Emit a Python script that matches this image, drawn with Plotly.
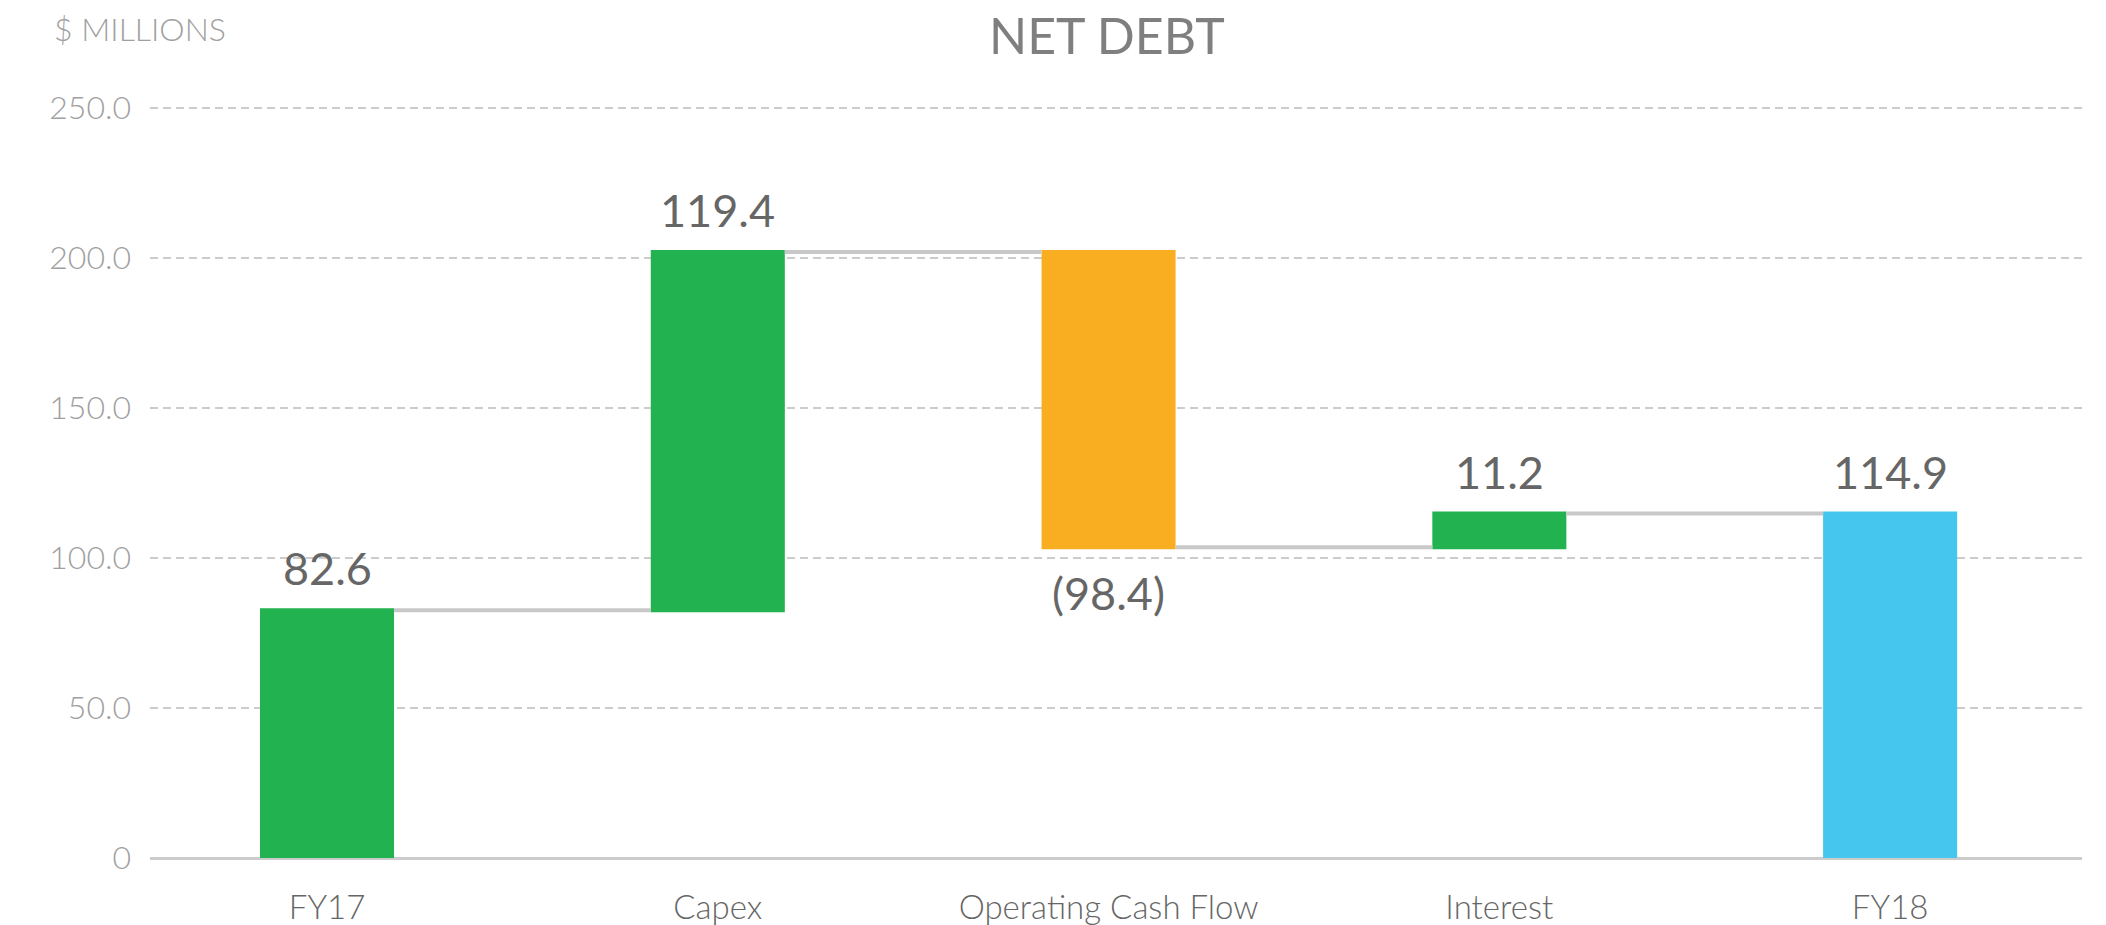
import plotly.graph_objects as go

categories = ["FY17", "Capex", "Operating Cash Flow", "Interest", "FY18"]
values = [82.6, 119.4, -98.4, 11.2, 0]
measures = ["relative", "relative", "relative", "relative", "total"]
labels = ["82.6", "119.4", "(98.4)", "11.2", "114.9"]
y_ticks = [0, 50, 100, 150, 200, 250]
y_tick_labels = ["0", "50.0", "100.0", "150.0", "200.0", "250.0"]

GREEN = "#22B24F"
ORANGE = "#F9AD20"
BLUE = "#44C6EE"
LABEL_FONT = dict(family="Lato", size=45, color="#666666")

fig = go.Figure(go.Waterfall(
    x=categories,
    y=values,
    measure=measures,
    increasing=dict(marker=dict(color=GREEN)),
    decreasing=dict(marker=dict(color=ORANGE)),
    totals=dict(marker=dict(color=BLUE)),
    connector=dict(mode="between", line=dict(color="#C8C8C8", width=4)),
    width=0.343,
    hoverinfo="skip",
))

# value labels placed at the bar ends computed from the data
running = 0.0
for cat, v, m, lab in zip(categories, values, measures, labels):
    if m == "total":
        end = running
        positive = True
    else:
        running += v
        end = running
        positive = v >= 0
    fig.add_annotation(
        x=cat, y=end, xref="x", yref="y", text=lab, showarrow=False,
        yanchor="bottom" if positive else "top",
        yshift=13 if positive else -17,
        font=LABEL_FONT,
    )

fig.update_layout(
    width=2106, height=925,
    margin=dict(l=150, r=24, t=102, b=67, autoexpand=False),
    paper_bgcolor="white", plot_bgcolor="white",
    showlegend=False,
    font=dict(family="Lato", color="#666666"),
    title=dict(text="NET DEBT", x=0.5256, xanchor="center", y=0.961, yanchor="middle",
               font=dict(family="Lato", size=50, color="#7F7F7F")),
    xaxis=dict(range=[-0.453, 4.491], showgrid=False, showline=False, zeroline=False,
               automargin=False, ticks="", ticklabelstandoff=27,
               tickfont=dict(family="Lato", size=33, color="#666666", weight=300)),
    yaxis=dict(range=[0, 252], tickvals=y_ticks, ticktext=y_tick_labels,
               automargin=False,
               showgrid=True, gridcolor="#CCCCCC", gridwidth=2, griddash="8px,5px",
               zeroline=True, zerolinecolor="#CCCCCC", zerolinewidth=3,
               showline=False, ticks="", ticklabelstandoff=18,
               tickfont=dict(family="Lato", size=32, color="#A0A0A0", weight=300)),
)

fig.add_annotation(text="$ MILLIONS", xref="paper", yref="paper", x=-0.0507, y=1.097,
                   xanchor="left", yanchor="middle", showarrow=False,
                   font=dict(family="Lato", size=32, color="#A0A0A0", weight=300))

# remove the browser's default 8px body margin so the figure fills the window exactly
fig.write_html("out.html", config={"displayModeBar": False},
               post_script="document.body.style.margin='0px';")
